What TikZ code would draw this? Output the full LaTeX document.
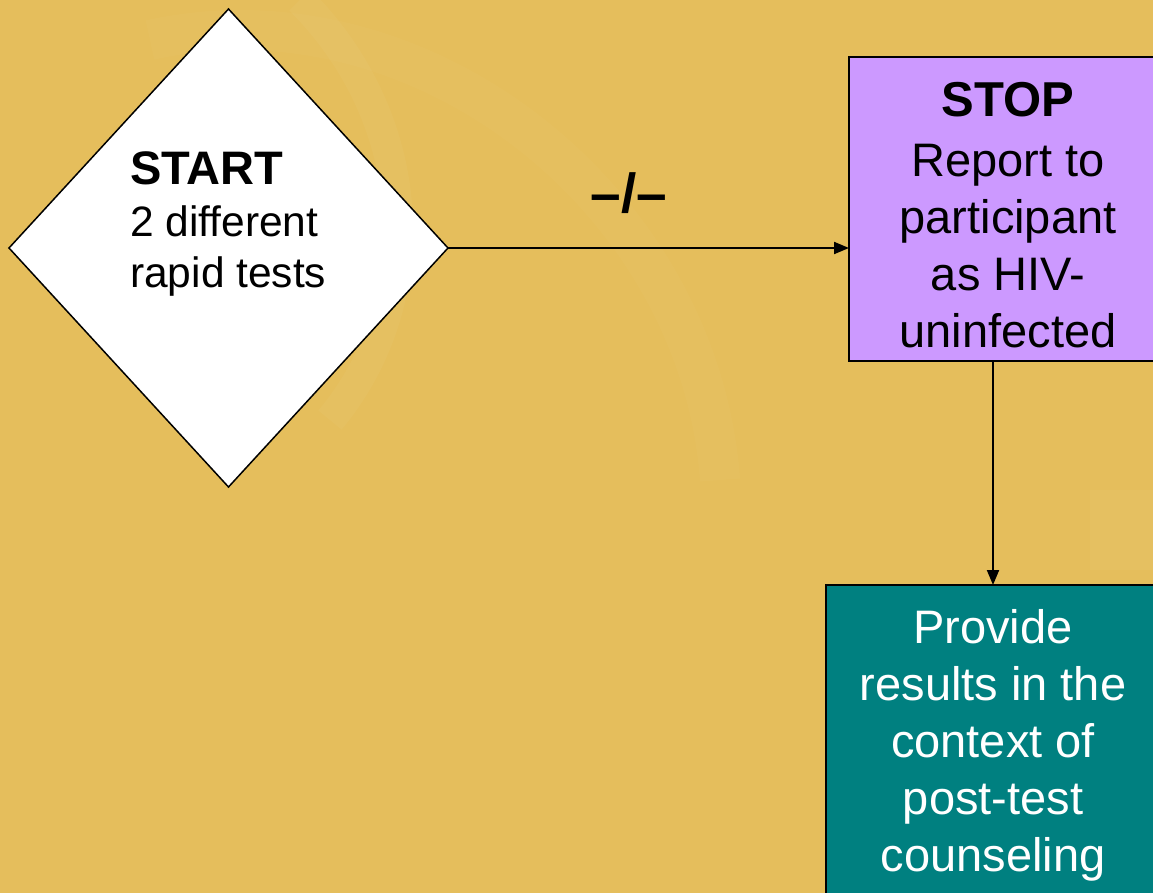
\documentclass[tikz,border=0pt]{standalone}
\usepackage{fontspec}
\setmainfont{Liberation Sans}
\usetikzlibrary{shapes.geometric,arrows.meta}
\definecolor{bg}{RGB}{229,190,92}
\definecolor{stopc}{RGB}{204,153,255}
\definecolor{tealc}{RGB}{0,128,128}
\begin{document}
\begin{tikzpicture}[x=1pt,y=-1pt,
  startnode/.style={diamond, draw=black, fill=white, line width=1.5pt, inner sep=0pt, outer sep=0pt, minimum width=439pt, minimum height=478pt},
  boxnode/.style={rectangle, draw=black, line width=2pt, inner sep=0pt, outer sep=0pt},
  txt/.style={inner sep=0pt, outer sep=0pt, align=center, font=\fontsize{47}{57}\selectfont},
  conn/.style={line width=2pt, -{Triangle[length=15pt,width=12pt]}}]
\useasboundingbox (0,0) rectangle (1153,893);
\clip (0,0) rectangle (1153,893);
\fill[bg] (0,0) rectangle (1153,893);
\draw[white, opacity=0.035, line width=30pt] (300,0) .. controls (420,120) and (430,300) .. (330,420);
\draw[white, opacity=0.025, line width=40pt] (150,40) .. controls (420,-20) and (700,200) .. (720,480);
\fill[white, opacity=0.03] (1090,490) rectangle (1153,570);
\node[startnode] (start) at (228.5,248) {};
\node[inner sep=0pt, anchor=west, align=left, font=\fontsize{42.5}{51}\selectfont] (starttxt) at (130,224) {{\bfseries\fontsize{47}{51}\selectfont START}\\[1pt]2 different\\rapid tests};
\node[boxnode, fill=stopc, minimum width=311pt, minimum height=304pt] (stop) at (1004.5,209) {};
\node[txt] (stoptxt) at (1008,215.5) {{\bfseries\fontsize{49}{57}\selectfont STOP}\\[3pt]Report to\\participant\\as HIV-\\uninfected};
\node[boxnode, fill=tealc, minimum width=334pt, minimum height=315pt] (prov) at (993,742.5) {};
\node[txt, text=white] (provtxt) at (993,745.5) {Provide\\results in the\\context of\\post-test\\counseling};
\draw[conn] (start.east) -- (start.east -| stop.west);
\draw[conn] (stop.south -| prov.north) -- (prov.north);
\node[font=\bfseries\fontsize{55}{55}\selectfont, anchor=base, inner sep=0pt] (lbl) at (629,213) {–/–};
\end{tikzpicture}
\end{document}
